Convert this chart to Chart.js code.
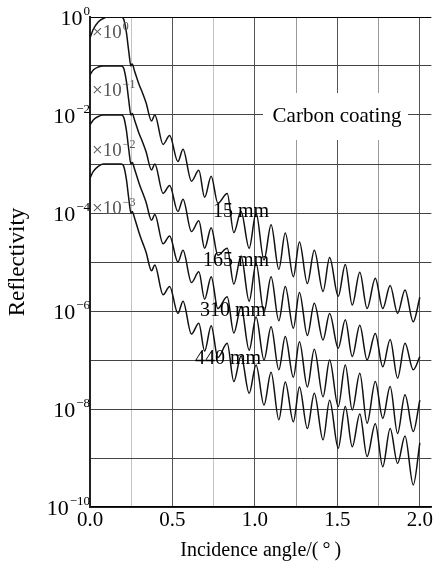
<!DOCTYPE html>
<html>
<head>
<meta charset="utf-8">
<script src="https://cdn.jsdelivr.net/npm/chart.js@4"></script>
<style>
  html, body { margin: 0; padding: 0; background: #fff; }
  canvas { display: block; }
</style>
</head>
<body>
<canvas id="chartRefl" width="434" height="561"></canvas>
<script>
// Incidence angle (deg), shared by the four curves
const angles = [0, 0.02, 0.05, 0.08, 0.11, 0.15, 0.19, 0.205, 0.22, 0.235, 0.248, 0.256, 0.27, 0.3, 0.315, 0.34,
  0.373, 0.393, 0.443, 0.483, 0.533, 0.564, 0.615, 0.66, 0.695, 0.735, 0.775, 0.832, 0.872, 0.916, 0.965, 1.007,
  1.055, 1.098, 1.145, 1.184, 1.233, 1.27, 1.318, 1.36, 1.413, 1.453, 1.505, 1.548, 1.59, 1.636, 1.68, 1.73,
  1.775, 1.82, 1.865, 1.91, 1.96, 2.0];

// log10(reflectivity), offsets already applied
const log15 = [-0.43, -0.25, -0.1, -0.03, 0, 0, 0, -0.05, -0.3, -0.7, -1.0, -0.96, -1.1, -1.4, -1.52, -1.75,
  -2.12, -2.0, -2.6, -2.42, -2.95, -2.7, -3.35, -3.13, -3.68, -3.25, -3.8, -3.6, -4.4, -3.97, -4.72, -4.0,
  -4.96, -4.24, -5.15, -4.41, -5.3, -4.59, -5.44, -4.76, -5.6, -4.91, -5.7, -5.05, -5.88, -5.21, -5.95, -5.33,
  -5.95, -5.48, -6.05, -5.57, -6.22, -5.72];
const log165 = [-1.18, -1.08, -1.02, -1.0, -1, -1, -1, -1.05, -1.3, -1.7, -2.0, -1.97, -2.1, -2.4, -2.52, -2.75,
  -3.12, -3.0, -3.6, -3.44, -3.97, -3.72, -4.38, -4.16, -4.72, -4.3, -4.86, -4.72, -5.45, -4.88, -5.8, -5.03,
  -6.02, -5.3, -6.2, -5.5, -6.35, -5.62, -6.5, -5.84, -6.59, -6.05, -6.76, -6.18, -6.93, -6.29, -7.0, -6.46,
  -7.14, -6.58, -7.37, -6.66, -7.2, -6.93];
const log310 = [-2.2, -2.1, -2.03, -2.0, -2, -2, -2, -2.05, -2.3, -2.7, -3.0, -2.97, -3.1, -3.42, -3.55, -3.78,
  -4.15, -4.03, -4.63, -4.47, -5.0, -4.76, -5.42, -5.2, -5.76, -5.3, -5.95, -5.71, -6.45, -5.92, -6.8, -6.12,
  -7.0, -6.32, -7.2, -6.52, -7.35, -6.63, -7.55, -6.78, -7.75, -7.0, -7.95, -7.1, -8.02, -7.27, -8.29, -7.44,
  -8.19, -7.54, -8.5, -7.71, -8.46, -7.82];
const log440 = [-3.29, -3.15, -3.05, -3.0, -3, -3, -3, -3.05, -3.3, -3.7, -4.0, -3.97, -4.1, -4.43, -4.57, -4.8,
  -5.18, -5.06, -5.67, -5.5, -6.05, -5.8, -6.47, -6.25, -6.82, -6.3, -6.95, -6.66, -7.44, -6.92, -7.68, -7.1,
  -7.92, -7.25, -8.22, -7.45, -8.26, -7.55, -8.4, -7.68, -8.63, -7.82, -8.8, -7.95, -8.77, -8.1, -8.97, -8.3,
  -9.18, -8.4, -9.11, -8.55, -9.55, -8.69];

const seriesNames = ['15 mm', '165 mm', '310 mm', '440 mm'];
const seriesLogs = [log15, log165, log310, log440];
const offsetExps = ['0', '\u22121', '\u22122', '\u22123'];
const yLabelExps = [0, -2, -4, -6, -8, -10];
const xTickLabels = [0, 0.5, 1.0, 1.5, 2.0];

const serif = "'Liberation Serif', 'Times New Roman', serif";

// base + superscript, starting at x (left) or ending at x (right)
function drawPower(ctx, base, exp, x, y, size, expSize, rise, align) {
  ctx.font = size + 'px ' + serif;
  const wb = ctx.measureText(base).width;
  ctx.font = expSize + 'px ' + serif;
  const we = ctx.measureText(exp).width;
  const x0 = align === 'right' ? x - wb - we : x;
  ctx.textAlign = 'left';
  ctx.textBaseline = 'middle';
  ctx.font = size + 'px ' + serif;
  ctx.fillText(base, x0, y);
  ctx.font = expSize + 'px ' + serif;
  ctx.fillText(exp, x0 + wb + 1, y - rise);
}

const labelsPlugin = {
  id: 'labels',
  afterDraw(chart) {
    const ctx = chart.ctx;
    const y = chart.scales.y;
    ctx.save();
    ctx.fillStyle = '#000';
    // y tick labels 10^n
    yLabelExps.forEach(e => {
      const py = y.getPixelForValue(Math.pow(10, e));
      const ex = e === 0 ? '0' : '\u2212' + Math.abs(e);
      drawPower(ctx, '10', ex, 89, py + 2, 22, 13, 7, 'right');
    });
    // offset factors
    ctx.fillStyle = '#555';
    const offY = [33, 91, 151, 209];
    offsetExps.forEach((ex, i) => drawPower(ctx, '\u00d710', ex, 92, offY[i], 19, 12, 6, 'left'));
    // curve labels
    ctx.fillStyle = '#000';
    ctx.font = '20px ' + serif;
    ctx.textAlign = 'center';
    ctx.textBaseline = 'middle';
    const lab = [[241, 212], [236, 261], [233, 311], [228, 359]];
    seriesNames.forEach((n, i) => ctx.fillText(n, lab[i][0], lab[i][1]));
    // Carbon coating
    ctx.fillStyle = '#fff';
    ctx.fillRect(263, 93, 145, 47);
    ctx.fillStyle = '#000';
    ctx.font = '21px ' + serif;
    ctx.fillText('Carbon coating', 337, 116);
    ctx.restore();
  }
};

new Chart(document.getElementById('chartRefl'), {
  type: 'line',
  data: {
    datasets: seriesLogs.map((lg, i) => ({
      label: seriesNames[i],
      data: angles.map((a, j) => ({ x: a, y: Math.pow(10, lg[j]) })),
      borderColor: '#111',
      borderWidth: 1.5,
      pointRadius: 0,
      cubicInterpolationMode: 'monotone'
    }))
  },
  options: {
    responsive: false,
    animation: false,
    devicePixelRatio: 1,
    layout: { padding: { top: 17, right: 1, left: 0, bottom: 0 } },
    plugins: { legend: { display: false }, tooltip: { enabled: false } },
    scales: {
      x: {
        type: 'linear',
        min: 0,
        max: 2.07,
        afterFit: s => { s.height = 54; },
        border: { color: '#000', width: 1.5 },
        grid: {
          drawTicks: false,
          color: c => {
            const v = c.tick ? c.tick.value : 0;
            if (v === 0) return '#000';
            if (v % 0.5 === 0) return '#555';
            if (v === 0.25 || v === 0.75) return '#c4c4c4';
            return '#999';
          }
        },
        ticks: {
          stepSize: 0.25,
          includeBounds: false,
          autoSkip: false,
          maxRotation: 0,
          padding: 1,
          color: '#000',
          font: { family: serif, size: 21 },
          callback: v => xTickLabels.includes(v) ? v.toFixed(1) : ''
        },
        title: {
          display: true,
          text: 'Incidence angle/(\u2009\u00b0\u2009)',
          color: '#000',
          font: { family: serif, size: 20, lineHeight: 1 },
          padding: { top: 0, bottom: 0 }
        }
      },
      y: {
        type: 'logarithmic',
        min: 1e-10,
        max: 1,
        afterFit: s => { s.width = 90; },
        afterBuildTicks: s => { s.ticks = yLabelExps.concat([-1, -3, -5, -7, -9]).map(e => ({ value: Math.pow(10, e) })); },
        border: { color: '#222', width: 2 },
        grid: {
          drawTicks: false,
          color: c => (c.tick && c.tick.value === 1) ? '#000' : '#444'
        },
        ticks: { display: false },
        title: {
          display: true,
          text: 'Reflectivity',
          color: '#000',
          font: { family: serif, size: 23, lineHeight: 1 },
          padding: { top: 6, bottom: 0 }
        }
      }
    }
  },
  plugins: [labelsPlugin]
});
</script>
</body>
</html>
